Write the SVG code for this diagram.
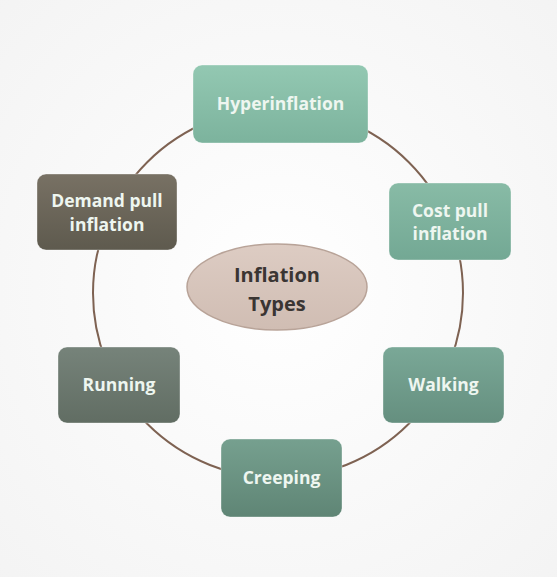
<svg xmlns="http://www.w3.org/2000/svg" width="557" height="577" viewBox="0 0 557 577">
<defs>
<linearGradient id="gH" x1="0" y1="0" x2="0" y2="1"><stop offset="0" stop-color="#93c8b2"/><stop offset="1" stop-color="#7cb39d"/></linearGradient>
<linearGradient id="gC" x1="0" y1="0" x2="0" y2="1"><stop offset="0" stop-color="#88bba6"/><stop offset="1" stop-color="#73a894"/></linearGradient>
<linearGradient id="gW" x1="0" y1="0" x2="0" y2="1"><stop offset="0" stop-color="#7aa897"/><stop offset="1" stop-color="#658f7f"/></linearGradient>
<linearGradient id="gCr" x1="0" y1="0" x2="0" y2="1"><stop offset="0" stop-color="#76a08f"/><stop offset="1" stop-color="#5f8575"/></linearGradient>
<linearGradient id="gR" x1="0" y1="0" x2="0" y2="1"><stop offset="0" stop-color="#76837a"/><stop offset="1" stop-color="#616d63"/></linearGradient>
<linearGradient id="gD" x1="0" y1="0" x2="0" y2="1"><stop offset="0" stop-color="#787164"/><stop offset="1" stop-color="#5e5a4e"/></linearGradient>
<linearGradient id="gE" x1="0" y1="0" x2="0" y2="1"><stop offset="0" stop-color="#ddccc3"/><stop offset="1" stop-color="#d0bdb3"/></linearGradient>
<radialGradient id="bg" cx="0.5" cy="0.5" r="0.75"><stop offset="0" stop-color="#ffffff"/><stop offset="1" stop-color="#f3f3f3"/></radialGradient>
</defs>
<style>
.box{stroke:#ffffff;stroke-opacity:0.35;stroke-width:1}
.lbl{font-family:"Open Sans","Liberation Sans",sans-serif;font-weight:bold;font-size:17.5px;fill:#eef6f0;text-anchor:middle}
.ctr{font-family:"Open Sans","Liberation Sans",sans-serif;font-weight:bold;font-size:20px;fill:#3a3533;text-anchor:middle}
</style>
<rect width="557" height="577" fill="url(#bg)"/>
<g id="connectors">
<circle cx="278" cy="293" r="185" fill="none" stroke="#7e6252" stroke-width="2"/>
</g>
<g id="center">
<ellipse cx="277" cy="287" rx="90" ry="43" fill="url(#gE)" stroke="#b8a398" stroke-width="1.5"/>
<text class="ctr" x="277" y="282">Inflation</text>
<text class="ctr" x="277" y="311">Types</text>
</g>
<g id="hyperinflation">
<rect class="box" x="193" y="65" width="175" height="78" rx="9" fill="url(#gH)"/>
<text class="lbl" x="280.5" y="110">Hyperinflation</text>
</g>
<g id="costpull">
<rect class="box" x="389" y="183" width="122" height="77" rx="9" fill="url(#gC)"/>
<text class="lbl" x="450" y="217">Cost pull</text>
<text class="lbl" x="450" y="240">inflation</text>
</g>
<g id="walking">
<rect class="box" x="383" y="347" width="121" height="76" rx="9" fill="url(#gW)"/>
<text class="lbl" x="443.5" y="391">Walking</text>
</g>
<g id="creeping">
<rect class="box" x="221" y="439" width="121" height="78" rx="9" fill="url(#gCr)"/>
<text class="lbl" x="281.5" y="484">Creeping</text>
</g>
<g id="running">
<rect class="box" x="58" y="347" width="122" height="76" rx="9" fill="url(#gR)"/>
<text class="lbl" x="119" y="391">Running</text>
</g>
<g id="demandpull">
<rect class="box" x="37" y="174" width="140" height="76" rx="9" fill="url(#gD)"/>
<text class="lbl" x="107" y="207">Demand pull</text>
<text class="lbl" x="107" y="231">inflation</text>
</g>
</svg>
